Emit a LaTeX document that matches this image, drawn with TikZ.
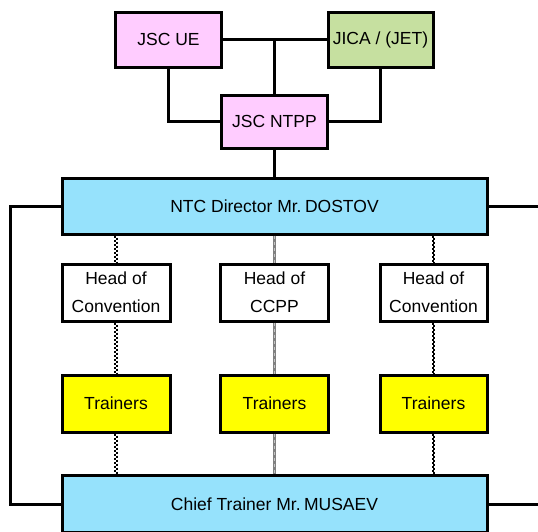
\documentclass[tikz,border=0pt]{standalone}
\usepackage{fontspec}
\setmainfont{Liberation Sans}
\definecolor{pinkbox}{HTML}{FFCCFF}
\definecolor{greenbox}{HTML}{C6E0A0}
\definecolor{bluebox}{HTML}{96E2FC}
\definecolor{yellowbox}{HTML}{FFFF00}
\newlength{\myspace}
\tikzset{
  box/.style={draw=black, line width=3pt, rectangle, inner sep=0pt, align=center, font=\fontsize{17.5}{28}\selectfont},
  conn/.style={draw=black, line width=3pt},
  dotl/.style={draw=black, line width=1.7pt, dash pattern=on 2pt off 2pt, transform canvas={xshift=-0.8pt}},
  dotr/.style={draw=black, line width=1.7pt, dash pattern=on 2pt off 2pt, dash phase=2pt, transform canvas={xshift=0.8pt}},
  grayconn/.style={draw=gray, line width=3pt},
  grayover/.style={draw=gray!45, line width=1.5pt, dash pattern=on 3pt off 3pt},
}
\begin{document}
\begin{tikzpicture}[x=1pt, y=-1pt]
\useasboundingbox (0,0) rectangle (538,531);
% top nodes
\node[box, fill=pinkbox, minimum width=106pt, minimum height=55pt] (ue) at (168.5,39.5) {JSC UE};
\node[box, fill=greenbox, minimum width=105pt, minimum height=55pt] (jica) at (380.5,39.5) {JICA / (JET)};
\node[box, fill=pinkbox, minimum width=106pt, minimum height=53pt] (ntpp) at (274.5,121.5) {JSC NTPP};
\node[box, fill=bluebox, minimum width=425pt, minimum height=56pt] (dir) at (274.5,206) {NTC Director Mr.\hspace{0.2em}DOSTOV};
\node[box, fill=bluebox, minimum width=425pt, minimum height=57pt] (chief) at (274.5,504) {Chief Trainer Mr.\hspace{0.2em}MUSAEV};
% heads
\node[box, fill=white, minimum width=108pt, minimum height=57pt] (h1) at (116,292.5) {Head of\\Convention};
\node[box, fill=white, minimum width=108pt, minimum height=57pt] (h2) at (274.5,292.5) {Head of\\CCPP};
\node[box, fill=white, minimum width=107pt, minimum height=57pt] (h3) at (433.5,292.5) {Head of\\Convention};
% trainers
\node[box, fill=yellowbox, minimum width=108pt, minimum height=57pt] (t1) at (116,403.5) {Trainers};
\node[box, fill=yellowbox, minimum width=108pt, minimum height=57pt] (t2) at (274.5,403.5) {Trainers};
\node[box, fill=yellowbox, minimum width=107pt, minimum height=57pt] (t3) at (433.5,403.5) {Trainers};
% coordinates
\coordinate (lt) at (10,206);
\coordinate (lb) at (10,504);
\coordinate (rt) at (540,206);
\coordinate (rb) at (540,504);
\coordinate (mid) at (ue.east -| ntpp.north);
% top connectors
\draw[conn] (ue.east) -- (jica.west);
\draw[conn] (mid) -- (ntpp.north);
\draw[conn] (ue.south) |- (ntpp.west);
\draw[conn] (jica.south) |- (ntpp.east);
\draw[conn] (ntpp.south) -- (dir.north);
\draw[conn] (dir.west) -- (lt) -- (lb) -- (chief.west);
\draw[conn] (dir.east) -- (rt);
\draw[conn] (chief.east) -- (rb);
% dotted connectors (checkered)
\foreach \s in {dotl,dotr}{
  \draw[\s] (dir.south -| h1.north) -- (h1.north);
  \draw[\s] (h1.south) -- (t1.north);
  \draw[\s] (t1.south) -- (chief.north -| t1.south);
  \draw[\s] (dir.south -| h3.north) -- (h3.north);
  \draw[\s] (h3.south) -- (t3.north);
  \draw[\s] (t3.south) -- (chief.north -| t3.south);
}
\draw[grayconn] (dir.south) -- (h2.north);
\draw[grayconn] (h2.south) -- (t2.north);
\draw[grayconn] (t2.south) -- (chief.north);
\draw[grayover] (dir.south) -- (h2.north);
\draw[grayover] (h2.south) -- (t2.north);
\draw[grayover] (t2.south) -- (chief.north);
\end{tikzpicture}
\end{document}
